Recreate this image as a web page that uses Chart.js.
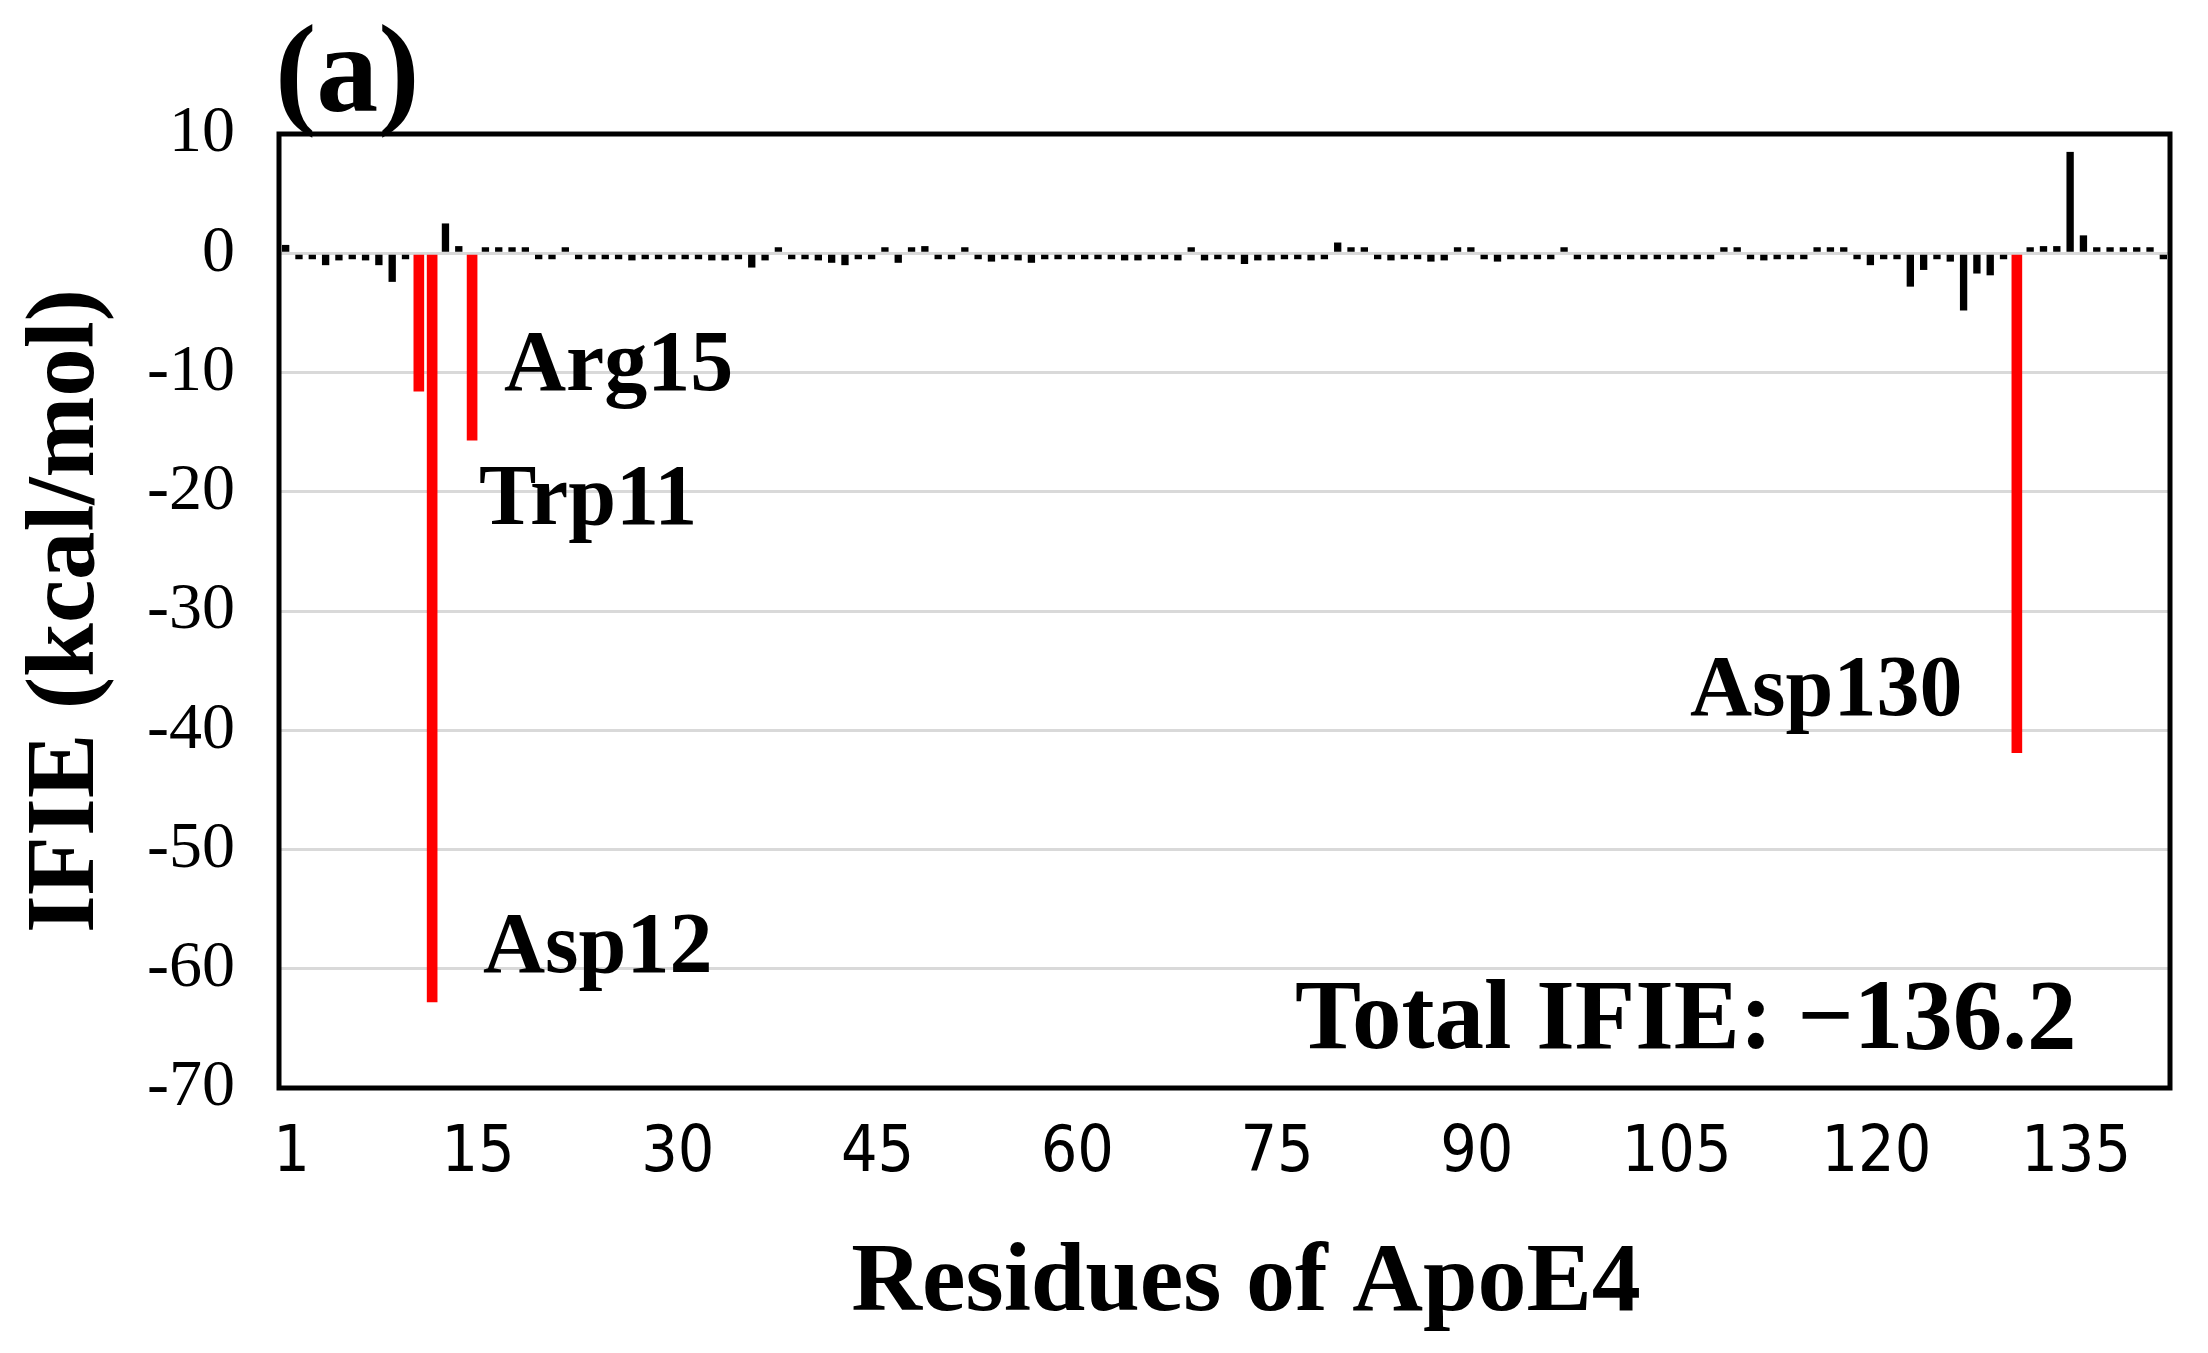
<!DOCTYPE html>
<html>
<head>
<meta charset="utf-8">
<script src="https://cdn.jsdelivr.net/npm/chart.js@4.4.1/dist/chart.umd.min.js"></script>
<style>
  html, body { margin: 0; padding: 0; background: #ffffff; }
  #wrap { width: 2208px; height: 1353px; position: relative; }
</style>
</head>
<body>
<div id="wrap"><canvas id="c"></canvas></div>
<script>
// ---- data ----
const residues = Array.from({length: 142}, (_, i) => i + 1);
const ifie = [
  0.7, -0.3, -0.5, -1.0, -0.6, -0.5, -0.6, -1.0, -2.4, -0.4,
  -11.6, -62.8, 2.5, 0.6, -15.7, 0.3, 0.2, 0.5, 0.4, -0.3,
  -0.4, 0.2, -0.5, -0.3, -0.4, -0.5, -0.6, -0.3, -0.3, -0.4,
  -0.3, -0.4, -0.6, -0.6, -0.4, -1.2, -0.6, 0.4, -0.4, -0.5,
  -0.6, -0.8, -1.0, -0.3, -0.3, 0.3, -0.8, 0.2, 0.6, -0.3,
  -0.4, 0.2, -0.4, -0.7, -0.4, -0.6, -0.8, -0.2, -0.4, -0.2,
  -0.3, -0.3, -0.2, -0.6, -0.6, -0.4, -0.3, -0.6, 0.4, -0.6,
  -0.5, -0.2, -0.9, -0.6, -0.6, -0.2, -0.3, -0.6, -0.2, 0.9,
  0.3, 0.3, -0.3, -0.6, -0.3, -0.5, -0.7, -0.6, 0.2, 0.5,
  -0.3, -0.7, -0.2, -0.4, -0.2, -0.2, 0.5, -0.2, -0.2, -0.2,
  -0.2, -0.2, -0.2, -0.2, -0.4, -0.2, -0.2, -0.2, 0.4, 0.3,
  -0.3, -0.6, -0.3, -0.5, -0.3, 0.2, 0.4, 0.3, -0.3, -1.0,
  -0.4, -0.2, -2.8, -1.4, -0.5, -0.7, -4.8, -1.7, -1.85, -0.4,
  -41.9, 0.3, 0.6, 0.6, 8.5, 1.5, 0.4, 0.4, 0.3, 0.3,
  0.2, -0.4
];
const highlighted = [11, 12, 15, 131];
const xTickLabels = [1, 15, 30, 45, 60, 75, 90, 105, 120, 135];
const yTicks = [10, 0, -10, -20, -30, -40, -50, -60, -70];
const annotations = [
  { text: 'Arg15',  x: 504,  y: 390,  size: 86 },
  { text: 'Trp11',  x: 479,  y: 524,  size: 86 },
  { text: 'Asp12',  x: 483,  y: 972,  size: 86 },
  { text: 'Asp130', x: 1690, y: 715,  size: 86 },
  { text: 'Total IFIE: \u2212136.2', x: 1295, y: 1048, size: 99 }
];
const panelLabel = '(a)';
const xTitle = 'Residues of ApoE4';
const yTitle = 'IFIE (kcal/mol)';

// ---- build datasets ----
const blackVals = ifie.map((v, i) => highlighted.includes(residues[i]) ? null : v);
const redVals = ifie.map((v, i) => highlighted.includes(residues[i]) ? v : null);

const SERIF = "'Liberation Serif', 'Times New Roman', serif";
const NARROW = "'Liberation Sans Narrow', 'DejaVu Sans Condensed', 'Liberation Sans', sans-serif";

const frameAndText = {
  id: 'frameAndText',
  afterDraw(chart) {
    const ctx = chart.ctx;
    const a = chart.chartArea;
    ctx.save();
    ctx.strokeStyle = '#000';
    ctx.lineWidth = 5;
    ctx.strokeRect(a.left, a.top, a.right - a.left, a.bottom - a.top);
    ctx.fillStyle = '#000';
    ctx.textBaseline = 'alphabetic';
    ctx.textAlign = 'left';
    annotations.forEach(t => {
      ctx.font = 'bold ' + t.size + 'px ' + SERIF;
      ctx.fillText(t.text, t.x, t.y);
    });
    ctx.font = 'bold 124px ' + SERIF;
    ctx.fillText(panelLabel, 275, 111);
    // x-axis title
    ctx.textAlign = 'center';
    ctx.font = 'bold 98px ' + SERIF;
    ctx.fillText(xTitle, 1246, 1310);
    ctx.restore();
  }
};

new Chart(document.getElementById('c'), {
  type: 'bar',
  data: {
    labels: residues.map(String),
    datasets: [
      {
        data: blackVals,
        backgroundColor: '#000000',
        borderWidth: 0,
        barPercentage: 0.55,
        categoryPercentage: 1.0,
        minBarLength: 6,
        grouped: false
      },
      {
        data: redVals,
        backgroundColor: '#ff0000',
        borderWidth: 0,
        barPercentage: 0.8,
        categoryPercentage: 1.0,
        grouped: false
      }
    ]
  },
  options: {
    responsive: true,
    maintainAspectRatio: false,
    animation: false,
    layout: { padding: { top: 134, right: 38, bottom: 0, left: 0 } },
    plugins: {
      legend: { display: false },
      tooltip: { enabled: false }
    },
    scales: {
      x: {
        type: 'category',
        grid: { display: false, drawTicks: false },
        border: { display: false },
        ticks: {
          autoSkip: false,
          maxRotation: 0,
          minRotation: 0,
          padding: 28,
          labelOffset: 6,
          color: '#000',
          font: { family: NARROW, size: 64 },
          callback: function(value, index) {
            const r = residues[index];
            return xTickLabels.includes(r) ? String(r) : '';
          }
        },
        title: { display: false },
        afterFit(scale) { scale.height = 265; }
      },
      y: {
        min: -70,
        max: 10,
        afterBuildTicks(scale) { scale.ticks = yTicks.map(v => ({ value: v })); },
        grid: { color: '#d9d9d9', lineWidth: 3, drawTicks: false },
        border: { display: false },
        ticks: {
          padding: 44,
          color: '#000',
          font: { family: SERIF, size: 66 },
          callback: v => String(v)
        },
        title: {
          display: true,
          text: yTitle,
          color: '#000',
          font: { family: SERIF, size: 97, weight: 'bold' },
          padding: { top: 10, bottom: 0 }
        },
        afterFit(scale) { scale.width = 279; }
      }
    }
  },
  plugins: [frameAndText]
});
</script>
</body>
</html>
